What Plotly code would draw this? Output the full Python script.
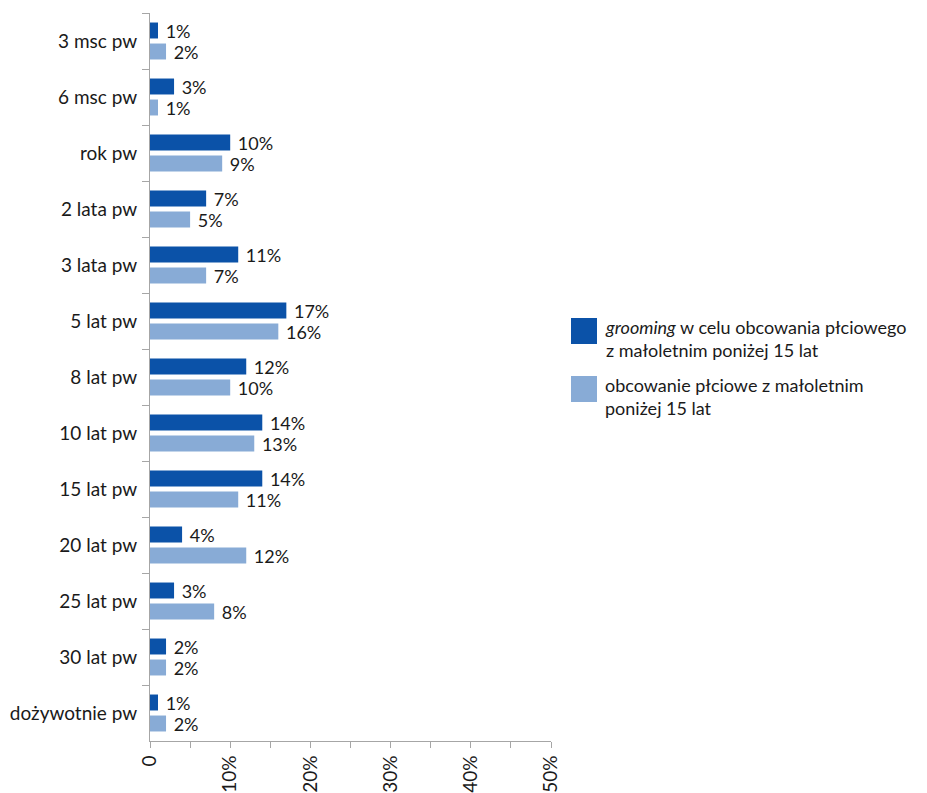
import plotly.graph_objects as go

categories = ["3 msc pw", "6 msc pw", "rok pw", "2 lata pw", "3 lata pw", "5 lat pw",
              "8 lat pw", "10 lat pw", "15 lat pw", "20 lat pw", "25 lat pw",
              "30 lat pw", "dożywotnie pw"]
grooming = [1, 3, 10, 7, 11, 17, 12, 14, 14, 4, 3, 2, 1]
obcowanie = [2, 1, 9, 5, 7, 16, 10, 13, 11, 12, 8, 2, 2]
series_names = ["<i>grooming</i> w celu obcowania płciowego<br>z małoletnim poniżej 15 lat",
                "obcowanie płciowe z małoletnim<br>poniżej 15 lat"]
x_tickvals = [0, 10, 20, 30, 40, 50]
x_ticktext = ["0", "10%", "20%", "30%", "40%", "50%"]

colors = ["#0B52A8", "#88ABD6"]
FONT = "Lato, 'Open Sans', sans-serif"
TXT = "#1a1a1a"
OFF = 8  # page body margin
W, H = 927 - OFF, 793 - OFF
L, R, T, B = 150 - OFF, 927 - 551, 13 - OFF, 793 - 741
pw, ph = W - L - R, H - T - B

fig = go.Figure()
for vals, c in zip([grooming, obcowanie], colors):
    fig.add_trace(go.Bar(
        y=categories, x=vals, orientation="h", marker=dict(color=c, line=dict(width=0)),
        text=[f"\u00a0{v}%" for v in vals], textposition="outside", cliponaxis=False,
        constraintext="none",
        textfont=dict(family=FONT, size=18, color=TXT), showlegend=False,
    ))

fig.update_layout(
    width=W, height=H, margin=dict(l=L, r=R, t=T, b=B, autoexpand=False),
    paper_bgcolor="white", plot_bgcolor="white",
    barmode="group", bargap=0.25, bargroupgap=0.24,
    font=dict(family=FONT, size=18, color=TXT),
)
fig.update_yaxes(
    autorange="reversed", type="category", showline=True, linecolor="#A6A6A6", linewidth=1,
    ticks="outside", ticklen=7, tickcolor="#A6A6A6", tickson="boundaries",
    ticklabelstandoff=8,
    showgrid=False, tickfont=dict(family=FONT, size=19, color=TXT), automargin=False,
)
fig.update_xaxes(
    range=[0, 50], tickvals=x_tickvals, ticktext=x_ticktext, tickangle=-90,
    showline=True, linecolor="#A6A6A6", linewidth=1, ticks="outside", ticklen=6,
    tickcolor="#A6A6A6", showgrid=False, zeroline=False,
    minor=dict(dtick=5, ticks="outside", ticklen=6, tickcolor="#A6A6A6"),
    tickfont=dict(family=FONT, size=19, color=TXT), automargin=False,
)

def px2paper(x, y):
    # x, y in screenshot pixels
    x -= OFF
    y -= OFF
    return (x - L) / pw, (H - B - y) / ph

# custom legend (swatches + text)
for i, (name, c) in enumerate(zip(series_names, colors)):
    top = 318 + i * 58
    x0, y0 = px2paper(571, top + 26)
    x1, y1 = px2paper(597, top)
    fig.add_shape(type="rect", xref="paper", yref="paper", x0=x0, x1=x1, y0=y0, y1=y1,
                  fillcolor=c, line=dict(width=0))
    tx, ty = px2paper(603, top - 4)
    fig.add_annotation(xref="paper", yref="paper", x=tx, y=ty, xanchor="left", yanchor="top",
                       text=name, showarrow=False, align="left",
                       font=dict(family=FONT, size=18, color=TXT))

fig.write_html("out.html")
